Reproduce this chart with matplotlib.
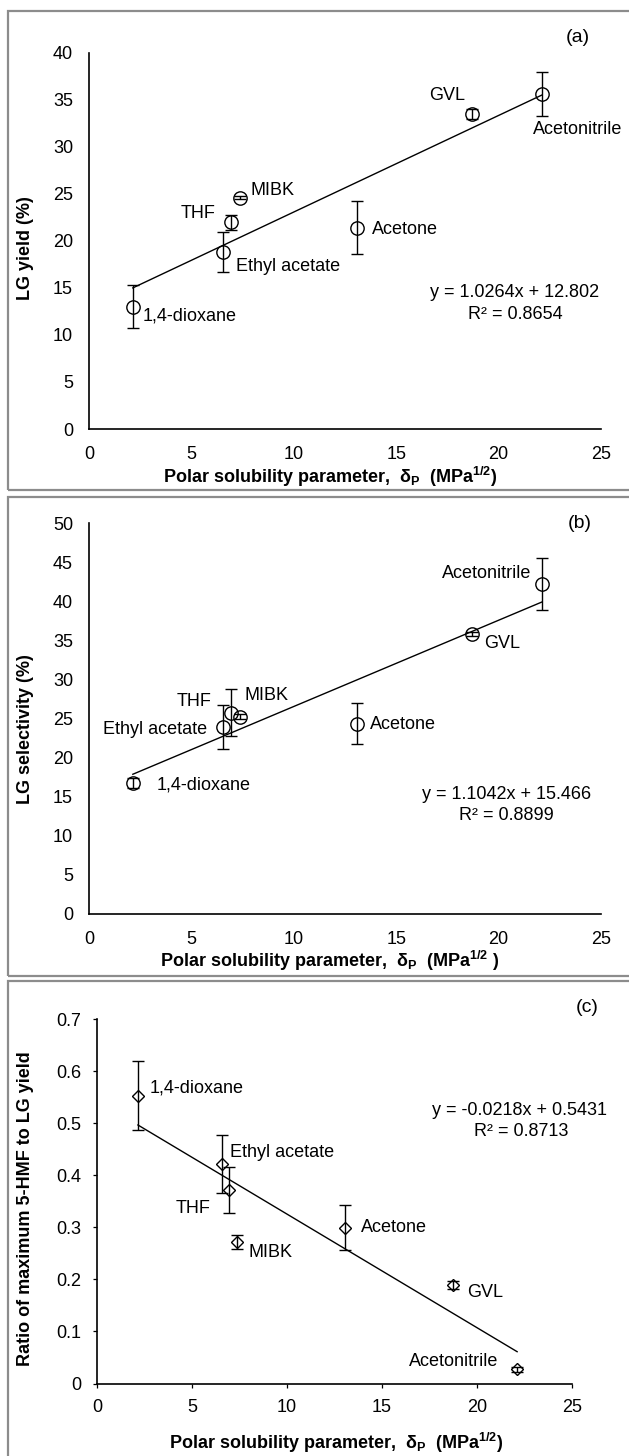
import matplotlib
matplotlib.use("Agg")
import matplotlib.pyplot as plt
from matplotlib.patches import Rectangle
import numpy as np

plt.rcParams['font.family'] = ['Liberation Sans', 'DejaVu Sans']
plt.rcParams['mathtext.fontset'] = 'custom'
plt.rcParams['mathtext.rm'] = 'Liberation Sans'
plt.rcParams['mathtext.it'] = 'Liberation Sans:italic'
plt.rcParams['mathtext.bf'] = 'Liberation Sans:bold'

# ---------------- data ----------------
solvents = ["1,4-dioxane", "Ethyl acetate", "THF", "MIBK", "Acetone", "GVL", "Acetonitrile"]
delta_p = [2.14, 6.56, 6.93, 7.38, 13.07, 18.72, 22.11]

lg_yield = [13.0, 18.8, 22.0, 24.6, 21.4, 33.5, 35.6]
lg_yield_err = [2.3, 2.1, 0.8, 0.2, 2.8, 0.5, 2.3]

lg_sel = [16.7, 23.9, 25.7, 25.2, 24.3, 35.8, 42.2]
lg_sel_err = [0.6, 2.8, 3.0, 0.3, 2.6, 0.3, 3.3]

ratio = [0.553, 0.421, 0.372, 0.271, 0.299, 0.189, 0.0275]
ratio_err = [0.066, 0.056, 0.044, 0.0134, 0.043, 0.0074, 0.005]

fit_a = (1.0264, 12.802)
fit_b = (1.1042, 15.466)
fit_c = (-0.0218, 0.5431)

eq_a = ["y = 1.0264x + 12.802", "R² = 0.8654"]
eq_b = ["y = 1.1042x + 15.466", "R² = 0.8899"]
eq_c = ["y = -0.0218x + 0.5431", "R² = 0.8713"]

xticks = [0, 5, 10, 15, 20, 25]
yticks_a = [0, 5, 10, 15, 20, 25, 30, 35, 40]
yticks_b = [0, 5, 10, 15, 20, 25, 30, 35, 40, 45, 50]
yticks_c = [0, 0.1, 0.2, 0.3, 0.4, 0.5, 0.6, 0.7]
yticklabels_c = ["0", "0.1", "0.2", "0.3", "0.4", "0.5", "0.6", "0.7"]

# label positions (data coords) and alignment
lab_a = {"1,4-dioxane": (2.63, 12.0, 'left'), "Ethyl acetate": (7.19, 17.3, 'left'),
         "THF": (6.2, 22.9, 'right'), "MIBK": (7.87, 25.4, 'left'),
         "Acetone": (13.83, 21.2, 'left'), "GVL": (18.38, 35.4, 'right'),
         "Acetonitrile": (21.66, 31.8, 'left')}
lab_b = {"1,4-dioxane": (3.3, 16.5, 'left'), "Ethyl acetate": (5.77, 23.5, 'right'),
         "THF": (5.97, 27.2, 'right'), "MIBK": (7.58, 27.9, 'left'),
         "Acetone": (13.71, 24.2, 'left'), "GVL": (19.27, 34.6, 'left'),
         "Acetonitrile": (21.62, 43.5, 'right')}
lab_c = {"1,4-dioxane": (2.75, 0.5675, 'left'), "Ethyl acetate": (6.98, 0.4428, 'left'),
         "THF": (5.96, 0.3353, 'right'), "MIBK": (7.97, 0.2508, 'left'),
         "Acetone": (13.9, 0.2988, 'left'), "GVL": (19.5, 0.174, 'left'),
         "Acetonitrile": (21.13, 0.0429, 'right')}

# ---------------- figure ----------------
W, H = 629, 1456
fig = plt.figure(figsize=(W / 100, H / 100), dpi=100)
FS = 13

def box(x0, y0, x1, y1):
    return [x0 / W, 1 - y1 / H, (x1 - x0) / W, (y1 - y0) / H]

def ptext(x, y, s, **kw):
    fig.text(x / W, 1 - y / H, s, **kw)

# panel frames
for (y0, y1) in [(11, 490), (497, 976), (981, 1470)]:
    fig.add_artist(Rectangle((8 / W, 1 - y1 / H), (650 - 8) / W, (y1 - y0) / H,
                             transform=fig.transFigure, fill=False,
                             edgecolor='#8c8c8c', lw=1.6))

ax_a = fig.add_axes(box(89, 52.7, 601, 429))
ax_b = fig.add_axes(box(89, 523, 601, 913.5))
ax_c = fig.add_axes(box(97.3, 1019, 572, 1383.5))

def style(ax, ticks):
    for s in ['top', 'right']:
        ax.spines[s].set_visible(False)
    for s in ['left', 'bottom']:
        ax.spines[s].set_linewidth(1.2)
    ax.set_xlim(0, 25)
    ax.set_xticks(xticks)
    if ticks:
        ax.tick_params(axis='both', direction='out', length=3, width=0.9,
                       labelsize=FS, colors='black')
        ax.tick_params(axis='y', pad=8.5)
        ax.tick_params(axis='x', pad=8)
    else:
        ax.tick_params(axis='both', length=0, labelsize=FS)
        ax.tick_params(axis='y', pad=11.5)
        ax.tick_params(axis='x', pad=12.5)

def panel(ax, y, err, fit, eq, labs, marker, ms, eqpos):
    ax.errorbar(delta_p, y, yerr=err, fmt=marker, ms=ms, mfc='none', mec='black',
                mew=1.0, ecolor='black', elinewidth=1.0, capsize=4, capthick=1.0,
                zorder=3)
    xs = np.array([min(delta_p), max(delta_p)])
    ax.plot(xs, fit[0] * xs + fit[1], color='black', lw=1.0, zorder=2)
    for name in solvents:
        lx, ly, ha = labs[name]
        ax.text(lx, ly, name, ha=ha, va='center', fontsize=FS)
    ax.text(eqpos[0], eqpos[1], eq[0], ha='center', va='center', fontsize=FS)
    ax.text(eqpos[2], eqpos[3], eq[1], ha='center', va='center', fontsize=FS)

# (a)
style(ax_a, False)
ax_a.set_ylim(0, 40)
ax_a.set_yticks(yticks_a)
panel(ax_a, lg_yield, lg_yield_err, fit_a, eq_a, lab_a, 'o', 9.6, (20.8, 14.5, 20.8, 12.2))

# (b)
style(ax_b, False)
ax_b.set_ylim(0, 50)
ax_b.set_yticks(yticks_b)
panel(ax_b, lg_sel, lg_sel_err, fit_b, eq_b, lab_b, 'o', 9.6, (20.37, 15.3, 20.37, 12.6))

# (c)
style(ax_c, True)
ax_c.set_ylim(0, 0.7)
ax_c.set_yticks(yticks_c)
ax_c.set_yticklabels(yticklabels_c)
panel(ax_c, ratio, ratio_err, fit_c, eq_c, lab_c, 'D', 6.3, (22.25, 0.5247, 22.3, 0.4844))

# panel letters
ptext(578, 37, "(a)", ha='center', va='center', fontsize=FS + 1)
ptext(580, 523, "(b)", ha='center', va='center', fontsize=FS + 1)
ptext(587, 1008, "(c)", ha='center', va='center', fontsize=FS + 1)

# axis labels
ptext(26, 248, "LG yield (%)", rotation=90, ha='center', va='center',
      fontsize=FS, fontweight='bold')
ptext(26, 729, "LG selectivity (%)", rotation=90, ha='center', va='center',
      fontsize=FS, fontweight='bold')
ptext(26, 1209, "Ratio of maximum 5-HMF to LG yield", rotation=90, ha='center',
      va='center', fontsize=FS, fontweight='bold')

ptext(330, 483, r"Polar solubility parameter,  δ$_\mathbf{P}$  (MPa$^\mathbf{1/2}$)",
      ha='center', va='baseline', fontsize=FS, fontweight='bold')
ptext(330, 967, r"Polar solubility parameter,  δ$_\mathbf{P}$  (MPa$^\mathbf{1/2}$ )",
      ha='center', va='baseline', fontsize=FS, fontweight='bold')
ptext(336, 1449, r"Polar solubility parameter,  δ$_\mathbf{P}$  (MPa$^\mathbf{1/2}$)",
      ha='center', va='baseline', fontsize=FS, fontweight='bold')

fig.savefig("out.png", dpi=100)
